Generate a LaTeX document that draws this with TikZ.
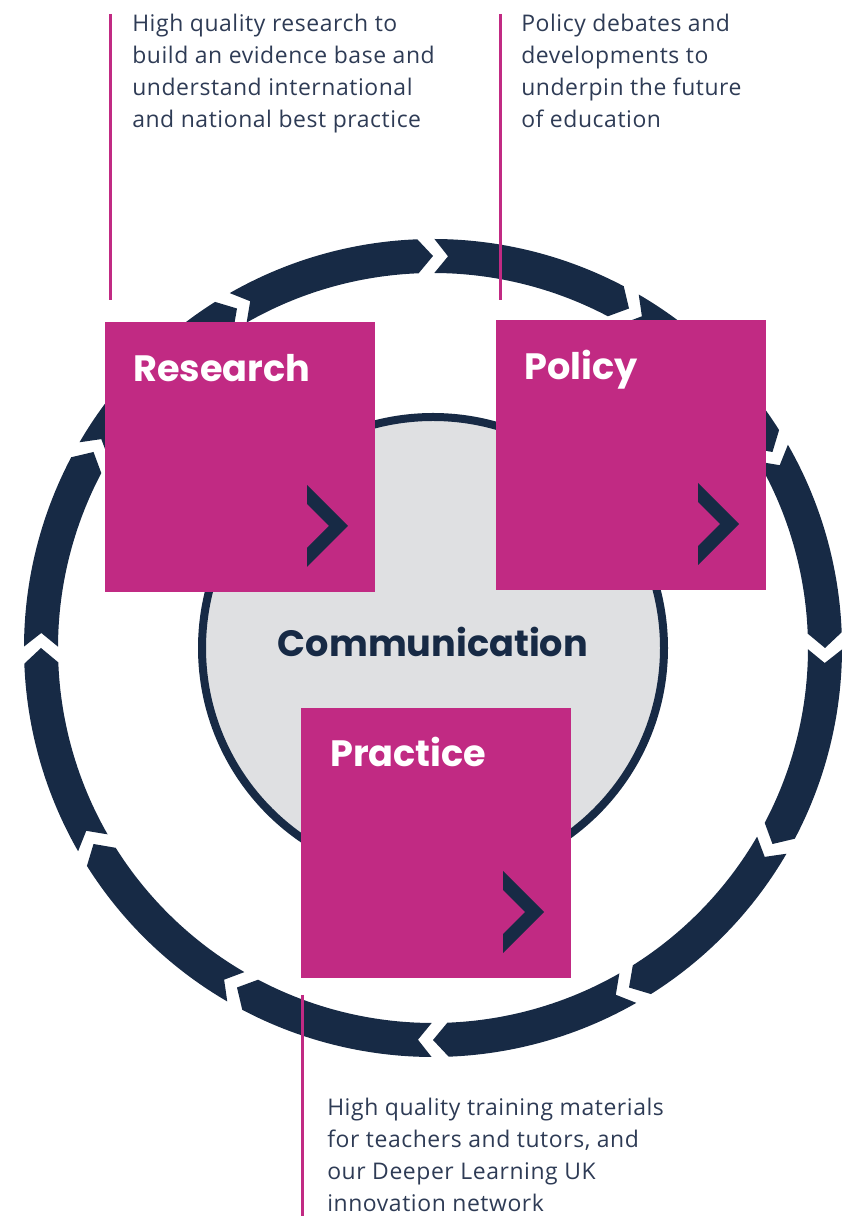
\documentclass[tikz,border=0pt]{standalone}
\usepackage{fontspec}
\setmainfont{Open Sans}[LetterSpace=2.5]
\newfontfamily\titlefont{Poppins}
\definecolor{navy}{HTML}{172A45}
\definecolor{mag}{HTML}{C12A83}
\definecolor{cgray}{HTML}{DFE0E2}
\definecolor{txt}{HTML}{2E3B55}
\tikzset{
  box/.style={fill=mag, minimum width=202.5pt, minimum height=202.5pt, inner sep=0pt, anchor=north west},
  boxtitle/.style={text=white, font=\titlefont\bfseries\fontsize{27.5}{33}\selectfont, inner sep=0pt, anchor=base west},
  body/.style={text=txt, font=\fontsize{17.2}{24}\selectfont, align=left, inner sep=0pt, anchor=base west},
  pinkline/.style={draw=mag, line width=2.25pt},
  chev/.pic={\fill[navy] (0,0) -- (41,-41) -- (0,-82) -- (0,-63) -- (22,-41) -- (0,-19) -- cycle;}
}
\begin{document}
\begin{tikzpicture}[x=0.75pt,y=0.75pt]
\useasboundingbox (0,0) rectangle (848,1216);
\clip (0,0) rectangle (848,1216);
\coordinate (C) at (433,568);
% ring of arrow segments (clockwise)
\foreach \k in {0,...,11}{
  \pgfmathsetmacro\a{90-30*\k}
  \pgfmathsetmacro\b{\a-30}
  \fill[navy] ([shift={(C)}]\a-0.2:409) arc[start angle=\a-0.2, end angle=\b+2.2, radius=409]
    -- ([shift={(C)}]\b:392) -- ([shift={(C)}]\b+2.2:375)
    arc[start angle=\b+2.2, end angle=\a-0.2, radius=375]
    -- ([shift={(C)}]\a-2.2:392) -- cycle;
}
% hub
\node[circle, draw=navy, line width=6pt, fill=cgray, minimum size=346.5pt, inner sep=0pt] (hub) at (C) {};
\node[text=navy, font=\titlefont\bfseries\fontsize{27.5}{33}\selectfont, inner sep=0pt, anchor=base] (comm) at (433,559) {Communication};
% boxes
\node[box] (research) at (105,894) {};
\node[box] (policy) at (496,896) {};
\node[box] (practice) at (301,508) {};
\node[boxtitle] (researcht) at (133,834) {Research};
\node[boxtitle] (policyt) at (524,836) {Policy};
\node[boxtitle] (practicet) at (330,449) {Practice};
\pic at (307,731) {chev};
\pic at (698,733) {chev};
\pic at (503,345) {chev};
% pink lines
\coordinate (l1a) at (110,1202); \coordinate (l1b) at (110,916);
\coordinate (l2a) at (500,1202); \coordinate (l2b) at (500,916);
\coordinate (l3a) at (302,221); \coordinate (l3b) at (302,0);
\draw[pinkline] (l1a) -- (l1b);
\draw[pinkline] (l2a) -- (l2b);
\draw[pinkline] (l3a) -- (l3b);
% texts (anchor = baseline of the last line)
\node[body] (t1) at (132,1088) {High quality research to\\build an evidence base and\\understand international\\and national best practice};
\node[body] (t2) at (521,1088) {Policy debates and\\developments to\\underpin the future\\of education};
\node[body] (t3) at (327,4) {High quality training materials\\for teachers and tutors, and\\our Deeper Learning UK\\innovation network};
\end{tikzpicture}
\end{document}
